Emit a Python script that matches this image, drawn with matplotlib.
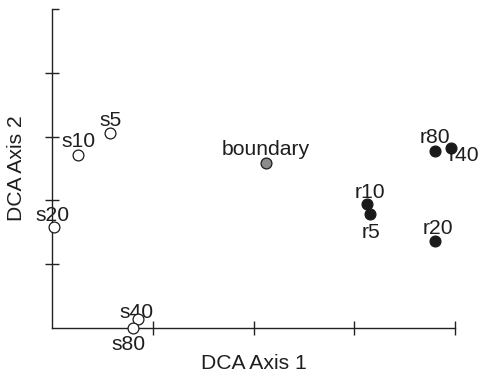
import matplotlib.pyplot as plt

plt.rcParams['font.family'] = ['Liberation Sans', 'DejaVu Sans']

# DCA site scores
names = ['s5', 's10', 's20', 's40', 's80', 'boundary', 'r80', 'r40', 'r10', 'r5', 'r20']
axis1 = [0.58, 0.26, 0.02, 0.85, 0.80, 2.12, 3.80, 3.96, 3.13, 3.16, 3.80]
axis2 = [3.05, 2.71, 1.59, 0.14, 0.00, 2.58, 2.78, 2.82, 1.95, 1.78, 1.36]
groups = ['s', 's', 's', 's', 's', 'b', 'r', 'r', 'r', 'r', 'r']

fill = {'s': 'white', 'b': '#8c8c8c', 'r': '#1a1a1a'}

# label placement: (dx, dy) in points, horizontal and vertical alignment
label_pos = {
    's5': (0, 5, 'center', 'baseline'),
    's10': (0, 6, 'center', 'baseline'),
    's20': (-1, 4, 'center', 'baseline'),
    's40': (-1, 1, 'center', 'baseline'),
    's80': (-3, -5, 'center', 'top'),
    'boundary': (0, 6, 'center', 'baseline'),
    'r80': (0, 5.5, 'center', 'baseline'),
    'r40': (-2, -9, 'left', 'baseline'),
    'r10': (2, 4, 'center', 'baseline'),
    'r5': (0.5, -6.5, 'center', 'top'),
    'r20': (2, 5, 'center', 'baseline'),
}

fig = plt.figure(figsize=(4.82, 3.74), dpi=100)
ax = fig.add_axes([52 / 482, 46 / 374, 403 / 482, 319 / 374])

for name, x, y, g in zip(names, axis1, axis2, groups):
    ax.plot(x, y, 'o', ms=7.8, mfc=fill[g], mec='#1a1a1a', mew=0.9,
            clip_on=False, zorder=3)
    dx, dy, ha, va = label_pos[name]
    ax.annotate(name, (x, y), xytext=(dx, dy), textcoords='offset points',
                ha=ha, va=va, fontsize=15.2, color='#1e1e1e', zorder=2)

ax.set_xlim(0, 4)
ax.set_ylim(0, 5)
ax.spines['top'].set_visible(False)
ax.spines['right'].set_visible(False)
for s in ('left', 'bottom'):
    ax.spines[s].set_linewidth(1.0)
    ax.spines[s].set_color('#222222')

ax.set_xticks([1, 2, 3, 4])
ax.set_yticks([1, 2, 3, 4])
ax.set_yticks([5], minor=True)
ax.tick_params(which='major', direction='inout', length=10, width=1.0,
               color='#222222', labelbottom=False, labelleft=False)
ax.tick_params(axis='y', which='minor', direction='in', length=5, width=1.0,
               color='#222222', labelleft=False)

ax.set_xlabel('DCA Axis 1', fontsize=15.2, color='#1e1e1e', labelpad=14)
ax.set_ylabel('DCA Axis 2', fontsize=15.2, color='#1e1e1e', labelpad=14)

fig.savefig('out.png', dpi=100)
